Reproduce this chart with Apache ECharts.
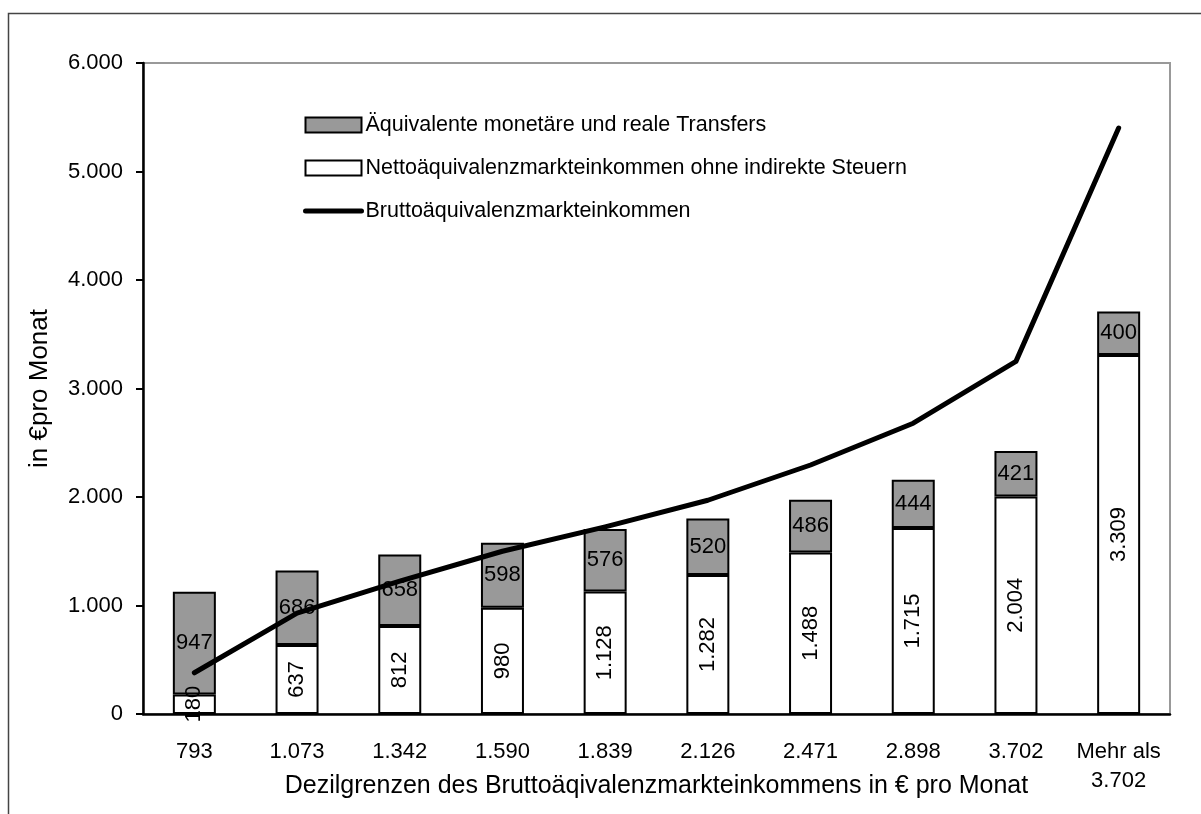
<!DOCTYPE html>
<html>
<head>
<meta charset="utf-8">
<script src="https://cdn.jsdelivr.net/npm/echarts@6/dist/echarts.min.js"></script>
<style>
html,body{margin:0;padding:0;background:#fff;}
#chart{width:1201px;height:814px;}
</style>
</head>
<body>
<div id="chart"></div>
<script>
var categories = ['793', '1.073', '1.342', '1.590', '1.839', '2.126', '2.471', '2.898', '3.702', 'Mehr als\n3.702'];
var netIncome = [180, 637, 812, 980, 1128, 1282, 1488, 1715, 2004, 3309];
var transfers = [947, 686, 658, 598, 576, 520, 486, 444, 421, 400];
var grossIncome = [380, 930, 1225, 1500, 1725, 1970, 2295, 2680, 3250, 5400];
var yTicks = { min: 0, max: 6000, interval: 1000 };

var nameNet = 'Nettoäquivalenzmarkteinkommen ohne indirekte Steuern';
var nameTransfers = 'Äquivalente monetäre und reale Transfers';
var nameGross = 'Bruttoäquivalenzmarkteinkommen';

function de(v) {
  return String(v).replace(/\B(?=(\d{3})+(?!\d))/g, '.');
}

var FONT = 'Liberation Sans, Arial, sans-serif';
var chart = echarts.init(document.getElementById('chart'));
chart.setOption({
  animation: false,
  textStyle: { fontFamily: FONT, color: '#000' },
  graphic: [{
    type: 'rect',
    shape: { x: 8.5, y: 13.5, width: 1250, height: 900 },
    style: { fill: 'none', stroke: '#444', lineWidth: 1.5 },
    z: -10
  }],
  grid: {
    left: 143, top: 63, right: 31, bottom: 100,
    containLabel: false,
    outerBoundsMode: 'none',
    show: true, borderColor: '#999', borderWidth: 2, backgroundColor: 'transparent'
  },
  legend: {
    orient: 'vertical',
    left: 303, top: 114,
    padding: 0,
    itemWidth: 56, itemHeight: 15, itemGap: 21,
    textStyle: { fontFamily: FONT, fontSize: 21.5, color: '#000', lineHeight: 21, padding: [0,0,0,-1] },
    data: [
      { name: nameTransfers, icon: 'rect' },
      { name: nameNet, icon: 'rect' },
      { name: nameGross, itemStyle: { opacity: 0 }, lineStyle: { width: 5, color: '#000', cap: 'round' } }
    ]
  },
  xAxis: {
    type: 'category',
    data: categories,
    name: 'Dezilgrenzen des Bruttoäqivalenzmarkteinkommens in € pro Monat',
    nameLocation: 'middle',
    nameGap: 60,
    nameMoveOverlap: false,
    nameTextStyle: { fontFamily: FONT, fontSize: 25, color: '#000' },
    axisLine: { lineStyle: { color: '#000', width: 2.5 } },
    axisTick: { show: false },
    axisLabel: { interval: 0, fontFamily: FONT, fontSize: 22, color: '#000', margin: 23, lineHeight: 29 }
  },
  yAxis: {
    type: 'value',
    min: yTicks.min, max: yTicks.max, interval: yTicks.interval,
    name: 'in €pro Monat',
    nameLocation: 'middle',
    nameGap: 90,
    nameMoveOverlap: false,
    nameRotate: 90,
    nameTextStyle: { fontFamily: FONT, fontSize: 26, color: '#000' },
    axisLine: { show: true, lineStyle: { color: '#000', width: 2.5 } },
    axisTick: { show: true, length: 7, lineStyle: { color: '#000', width: 2 } },
    splitLine: { show: false },
    axisLabel: { fontFamily: FONT, fontSize: 22, color: '#000', margin: 20, formatter: function (v) { return de(v); } }
  },
  series: [
    {
      name: nameNet,
      type: 'bar',
      stack: 'total',
      data: netIncome,
      barWidth: 43,
      itemStyle: { color: '#ffffff', borderColor: '#000', borderWidth: 2 },
      label: {
        show: true, position: 'inside', rotate: 90,
        fontFamily: FONT, fontSize: 22, color: '#000',
        formatter: function (p) { return de(p.value); }
      },
      z: 2
    },
    {
      name: nameTransfers,
      type: 'bar',
      stack: 'total',
      data: transfers,
      barWidth: 43,
      itemStyle: { color: '#999999', borderColor: '#000', borderWidth: 2 },
      label: {
        show: true, position: 'inside',
        fontFamily: FONT, fontSize: 22, color: '#000',
        formatter: function (p) { return de(p.value); }
      },
      z: 2
    },
    {
      name: nameGross,
      type: 'line',
      data: grossIncome,
      symbol: 'none',
      lineStyle: { color: '#000', width: 5, cap: 'round', join: 'round' },
      itemStyle: { color: '#000' },
      z: 5
    }
  ]
});
</script>
</body>
</html>
